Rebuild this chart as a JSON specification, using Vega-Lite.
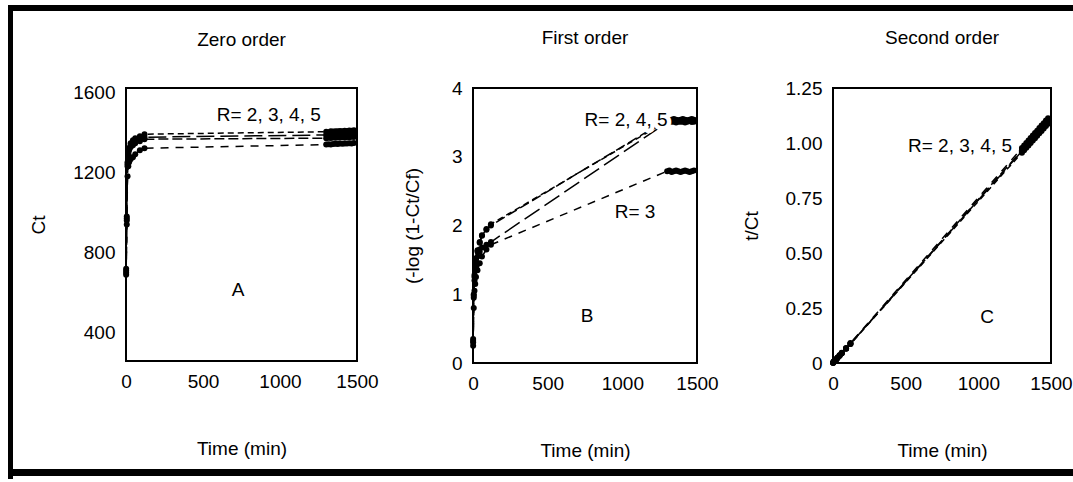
{
  "$schema": "https://vega.github.io/schema/vega-lite/v6.json",
  "padding": {"left": 8, "top": 5, "right": 0, "bottom": 3},
  "autosize": {"type": "pad"},
  "background": "white",
  "config": {
    "view": {"stroke": null},
    "font": "Liberation Sans, Arial, sans-serif",
    "axis": {"ticks": false, "grid": false, "domain": false, "labelFont": "Liberation Sans, Arial, sans-serif", "labelFontSize": 19, "labelColor": "black", "titleFont": "Liberation Sans, Arial, sans-serif", "titleFontSize": 19, "titleFontWeight": "normal", "titleColor": "black", "labelPadding": 11, "labelOverlap": false},
    "axisX": {"labelFlush": false, "titlePadding": 48},
    "axisY": {"titlePadding": 23, "labelDy": 2},
    "title": {"font": "Liberation Sans, Arial, sans-serif", "fontSize": 19, "fontWeight": "normal", "color": "black", "anchor": "middle", "offset": 31},
    "text": {"font": "Liberation Sans, Arial, sans-serif", "fontSize": 19, "color": "black"}
  },
  "datasets": {
    "A": [
      {"R":"2","t":1,"v":700},{"R":"2","t":5,"v":960},{"R":"2","t":10,"v":1230},{"R":"2","t":15,"v":1290},{"R":"2","t":20,"v":1320},{"R":"2","t":30,"v":1345},{"R":"2","t":45,"v":1360},{"R":"2","t":60,"v":1370},{"R":"2","t":90,"v":1380},{"R":"2","t":120,"v":1390},
      {"R":"2","t":1300,"v":1402},{"R":"2","t":1315,"v":1400},{"R":"2","t":1330,"v":1404},{"R":"2","t":1345,"v":1403},{"R":"2","t":1360,"v":1405},{"R":"2","t":1375,"v":1404},{"R":"2","t":1390,"v":1406},{"R":"2","t":1405,"v":1405},{"R":"2","t":1420,"v":1407},{"R":"2","t":1435,"v":1406},{"R":"2","t":1450,"v":1408},{"R":"2","t":1465,"v":1407},{"R":"2","t":1480,"v":1409},
      {"R":"3","t":1,"v":690},{"R":"3","t":5,"v":940},{"R":"3","t":10,"v":1180},{"R":"3","t":15,"v":1230},{"R":"3","t":20,"v":1250},{"R":"3","t":30,"v":1265},{"R":"3","t":45,"v":1275},{"R":"3","t":60,"v":1290},{"R":"3","t":90,"v":1310},{"R":"3","t":120,"v":1320},
      {"R":"3","t":1300,"v":1338},{"R":"3","t":1315,"v":1340},{"R":"3","t":1330,"v":1339},{"R":"3","t":1345,"v":1341},{"R":"3","t":1360,"v":1342},{"R":"3","t":1375,"v":1341},{"R":"3","t":1390,"v":1343},{"R":"3","t":1405,"v":1342},{"R":"3","t":1420,"v":1344},{"R":"3","t":1435,"v":1343},{"R":"3","t":1450,"v":1345},{"R":"3","t":1465,"v":1344},{"R":"3","t":1480,"v":1346},
      {"R":"4","t":1,"v":720},{"R":"4","t":5,"v":980},{"R":"4","t":10,"v":1250},{"R":"4","t":15,"v":1300},{"R":"4","t":20,"v":1320},{"R":"4","t":30,"v":1335},{"R":"4","t":45,"v":1345},{"R":"4","t":60,"v":1355},{"R":"4","t":90,"v":1365},{"R":"4","t":120,"v":1375},
      {"R":"4","t":1300,"v":1386},{"R":"4","t":1315,"v":1388},{"R":"4","t":1330,"v":1387},{"R":"4","t":1345,"v":1389},{"R":"4","t":1360,"v":1388},{"R":"4","t":1375,"v":1390},{"R":"4","t":1390,"v":1389},{"R":"4","t":1405,"v":1391},{"R":"4","t":1420,"v":1390},{"R":"4","t":1435,"v":1392},{"R":"4","t":1450,"v":1391},{"R":"4","t":1465,"v":1393},{"R":"4","t":1480,"v":1392},
      {"R":"5","t":1,"v":710},{"R":"5","t":5,"v":970},{"R":"5","t":10,"v":1240},{"R":"5","t":15,"v":1290},{"R":"5","t":20,"v":1310},{"R":"5","t":30,"v":1325},{"R":"5","t":45,"v":1335},{"R":"5","t":60,"v":1345},{"R":"5","t":90,"v":1355},{"R":"5","t":120,"v":1365},
      {"R":"5","t":1300,"v":1370},{"R":"5","t":1315,"v":1372},{"R":"5","t":1330,"v":1371},{"R":"5","t":1345,"v":1373},{"R":"5","t":1360,"v":1372},{"R":"5","t":1375,"v":1374},{"R":"5","t":1390,"v":1373},{"R":"5","t":1405,"v":1375},{"R":"5","t":1420,"v":1374},{"R":"5","t":1435,"v":1376},{"R":"5","t":1450,"v":1375},{"R":"5","t":1465,"v":1377},{"R":"5","t":1480,"v":1376}
    ],
    "B": [
      {"R":"2","t":1,"v":0.30},{"R":"2","t":5,"v":0.95},{"R":"2","t":10,"v":1.25},{"R":"2","t":15,"v":1.40},{"R":"2","t":20,"v":1.50},{"R":"2","t":30,"v":1.62},{"R":"2","t":45,"v":1.75},{"R":"2","t":60,"v":1.85},{"R":"2","t":90,"v":1.95},{"R":"2","t":120,"v":2.02},
      {"R":"2","t":1300,"v":3.52},{"R":"2","t":1315,"v":3.53},{"R":"2","t":1330,"v":3.51},{"R":"2","t":1345,"v":3.52},{"R":"2","t":1360,"v":3.53},{"R":"2","t":1375,"v":3.52},{"R":"2","t":1390,"v":3.51},{"R":"2","t":1405,"v":3.52},{"R":"2","t":1420,"v":3.53},{"R":"2","t":1435,"v":3.52},{"R":"2","t":1450,"v":3.52},{"R":"2","t":1465,"v":3.51},{"R":"2","t":1480,"v":3.52},
      {"R":"3","t":1,"v":0.25},{"R":"3","t":5,"v":0.80},{"R":"3","t":10,"v":1.05},{"R":"3","t":15,"v":1.15},{"R":"3","t":20,"v":1.25},{"R":"3","t":30,"v":1.35},{"R":"3","t":45,"v":1.45},{"R":"3","t":60,"v":1.55},{"R":"3","t":90,"v":1.65},{"R":"3","t":120,"v":1.72},
      {"R":"3","t":1300,"v":2.79},{"R":"3","t":1315,"v":2.80},{"R":"3","t":1330,"v":2.78},{"R":"3","t":1345,"v":2.79},{"R":"3","t":1360,"v":2.80},{"R":"3","t":1375,"v":2.79},{"R":"3","t":1390,"v":2.78},{"R":"3","t":1405,"v":2.79},{"R":"3","t":1420,"v":2.80},{"R":"3","t":1435,"v":2.79},{"R":"3","t":1450,"v":2.78},{"R":"3","t":1465,"v":2.79},{"R":"3","t":1480,"v":2.80},
      {"R":"4","t":1,"v":0.35},{"R":"4","t":5,"v":1.00},{"R":"4","t":10,"v":1.20},{"R":"4","t":15,"v":1.35},{"R":"4","t":20,"v":1.45},{"R":"4","t":30,"v":1.55},{"R":"4","t":45,"v":1.62},{"R":"4","t":60,"v":1.68},{"R":"4","t":90,"v":1.72},{"R":"4","t":120,"v":1.76},
      {"R":"4","t":1300,"v":3.50},{"R":"4","t":1315,"v":3.51},{"R":"4","t":1330,"v":3.52},{"R":"4","t":1345,"v":3.51},{"R":"4","t":1360,"v":3.50},{"R":"4","t":1375,"v":3.51},{"R":"4","t":1390,"v":3.52},{"R":"4","t":1405,"v":3.51},{"R":"4","t":1420,"v":3.50},{"R":"4","t":1435,"v":3.51},{"R":"4","t":1450,"v":3.52},{"R":"4","t":1465,"v":3.51},{"R":"4","t":1480,"v":3.51},
      {"R":"5","t":1,"v":0.32},{"R":"5","t":5,"v":0.98},{"R":"5","t":10,"v":1.28},{"R":"5","t":15,"v":1.42},{"R":"5","t":20,"v":1.52},{"R":"5","t":30,"v":1.64},{"R":"5","t":45,"v":1.76},{"R":"5","t":60,"v":1.86},{"R":"5","t":90,"v":1.94},{"R":"5","t":120,"v":2.00},
      {"R":"5","t":1300,"v":3.54},{"R":"5","t":1315,"v":3.53},{"R":"5","t":1330,"v":3.54},{"R":"5","t":1345,"v":3.55},{"R":"5","t":1360,"v":3.54},{"R":"5","t":1375,"v":3.53},{"R":"5","t":1390,"v":3.54},{"R":"5","t":1405,"v":3.55},{"R":"5","t":1420,"v":3.54},{"R":"5","t":1435,"v":3.53},{"R":"5","t":1450,"v":3.54},{"R":"5","t":1465,"v":3.55},{"R":"5","t":1480,"v":3.54}
    ],
    "C": [
      {"R":"2","t":1,"v":0.0014},{"R":"2","t":5,"v":0.0052},{"R":"2","t":10,"v":0.0081},{"R":"2","t":15,"v":0.0116},{"R":"2","t":20,"v":0.0152},{"R":"2","t":30,"v":0.0223},{"R":"2","t":45,"v":0.0331},{"R":"2","t":60,"v":0.0438},{"R":"2","t":90,"v":0.0652},{"R":"2","t":120,"v":0.0863},
      {"R":"2","t":1300,"v":0.956},{"R":"2","t":1315,"v":0.967},{"R":"2","t":1330,"v":0.978},{"R":"2","t":1345,"v":0.989},{"R":"2","t":1360,"v":1.000},{"R":"2","t":1375,"v":1.011},{"R":"2","t":1390,"v":1.022},{"R":"2","t":1405,"v":1.033},{"R":"2","t":1420,"v":1.044},{"R":"2","t":1435,"v":1.055},{"R":"2","t":1450,"v":1.066},{"R":"2","t":1465,"v":1.077},{"R":"2","t":1480,"v":1.088},
      {"R":"3","t":1,"v":0.0014},{"R":"3","t":5,"v":0.0053},{"R":"3","t":10,"v":0.0085},{"R":"3","t":15,"v":0.0122},{"R":"3","t":20,"v":0.0160},{"R":"3","t":30,"v":0.0237},{"R":"3","t":45,"v":0.0353},{"R":"3","t":60,"v":0.0465},{"R":"3","t":90,"v":0.0687},{"R":"3","t":120,"v":0.0909},
      {"R":"3","t":1300,"v":0.977},{"R":"3","t":1315,"v":0.989},{"R":"3","t":1330,"v":1.000},{"R":"3","t":1345,"v":1.011},{"R":"3","t":1360,"v":1.023},{"R":"3","t":1375,"v":1.034},{"R":"3","t":1390,"v":1.045},{"R":"3","t":1405,"v":1.056},{"R":"3","t":1420,"v":1.068},{"R":"3","t":1435,"v":1.079},{"R":"3","t":1450,"v":1.090},{"R":"3","t":1465,"v":1.102},{"R":"3","t":1480,"v":1.113},
      {"R":"4","t":1,"v":0.0014},{"R":"4","t":5,"v":0.0051},{"R":"4","t":10,"v":0.0080},{"R":"4","t":15,"v":0.0115},{"R":"4","t":20,"v":0.0152},{"R":"4","t":30,"v":0.0225},{"R":"4","t":45,"v":0.0335},{"R":"4","t":60,"v":0.0443},{"R":"4","t":90,"v":0.0659},{"R":"4","t":120,"v":0.0873},
      {"R":"4","t":1300,"v":0.963},{"R":"4","t":1315,"v":0.974},{"R":"4","t":1330,"v":0.985},{"R":"4","t":1345,"v":0.996},{"R":"4","t":1360,"v":1.007},{"R":"4","t":1375,"v":1.019},{"R":"4","t":1390,"v":1.030},{"R":"4","t":1405,"v":1.041},{"R":"4","t":1420,"v":1.052},{"R":"4","t":1435,"v":1.063},{"R":"4","t":1450,"v":1.074},{"R":"4","t":1465,"v":1.085},{"R":"4","t":1480,"v":1.096},
      {"R":"5","t":1,"v":0.0014},{"R":"5","t":5,"v":0.0052},{"R":"5","t":10,"v":0.0081},{"R":"5","t":15,"v":0.0116},{"R":"5","t":20,"v":0.0153},{"R":"5","t":30,"v":0.0226},{"R":"5","t":45,"v":0.0337},{"R":"5","t":60,"v":0.0446},{"R":"5","t":90,"v":0.0664},{"R":"5","t":120,"v":0.0879},
      {"R":"5","t":1300,"v":0.967},{"R":"5","t":1315,"v":0.978},{"R":"5","t":1330,"v":0.989},{"R":"5","t":1345,"v":1.000},{"R":"5","t":1360,"v":1.011},{"R":"5","t":1375,"v":1.022},{"R":"5","t":1390,"v":1.033},{"R":"5","t":1405,"v":1.045},{"R":"5","t":1420,"v":1.056},{"R":"5","t":1435,"v":1.067},{"R":"5","t":1450,"v":1.078},{"R":"5","t":1465,"v":1.089},{"R":"5","t":1480,"v":1.100}
    ]
  },
  "spacing": 0,
  "hconcat": [
    {"width": 5, "height": 474, "data": {"values": []}, "mark": "point", "view": {"fill": "black", "stroke": null}},
    {
      "spacing": 0,
      "vconcat": [
        {"width": 1060, "height": 6, "data": {"values": []}, "mark": "point", "view": {"fill": "black", "stroke": null}},
        {"width": 10, "height": 17, "data": {"values": []}, "mark": "point", "view": {"stroke": null}},
        {
          "spacing": 0,
          "hconcat": [
            {"width": 15, "height": 10, "data": {"values": []}, "mark": "point", "view": {"stroke": null}},
            {
              "width": 231, "height": 273,
              "view": {"stroke": "black", "strokeWidth": 2},
              "title": {"text": "Zero order", "offset": 33},
              "encoding": {
                "x": {"field": "t", "type": "quantitative", "scale": {"domain": [0, 1500], "nice": false}, "axis": {"values": [0, 500, 1000, 1500], "format": "d", "title": "Time (min)"}},
                "y": {"field": "v", "type": "quantitative", "scale": {"domain": [260, 1620], "nice": false, "zero": false}, "axis": {"values": [400, 800, 1200, 1600], "format": "d", "title": "Ct", "titlePadding": 24}}
              },
              "layer": [
                {"data": {"name": "A"}, "mark": {"type": "line", "color": "black", "strokeWidth": 1.5},
                 "encoding": {"strokeDash": {"field": "R", "type": "nominal", "scale": {"domain": ["2","3","4","5"], "range": [[6,4],[8,7],[18,6],[10,4]]}, "legend": null}, "order": {"field": "t"}}},
                {"data": {"name": "A"}, "mark": {"type": "circle", "color": "black", "size": 36, "opacity": 1}},
                {"data": {"values": [{"label": "R= 2, 3, 4, 5", "t": 927, "v": 1486}, {"label": "A", "t": 728, "v": 614}]},
                 "mark": {"type": "text"}, "encoding": {"text": {"field": "label"}}}
              ]
            },
            {"width": 22, "height": 10, "data": {"values": []}, "mark": "point", "view": {"stroke": null}},
            {
              "width": 224, "height": 275,
              "view": {"stroke": "black", "strokeWidth": 2},
              "title": {"text": "First order"},
              "encoding": {
                "x": {"field": "t", "type": "quantitative", "scale": {"domain": [0, 1500], "nice": false}, "axis": {"values": [0, 500, 1000, 1500], "format": "d", "title": "Time (min)"}},
                "y": {"field": "v", "type": "quantitative", "scale": {"domain": [0, 4], "nice": false}, "axis": {"values": [0, 1, 2, 3, 4], "format": "d", "title": "(-log (1-Ct/Cf)", "titlePadding": 29}}
              },
              "layer": [
                {"data": {"name": "B"}, "mark": {"type": "line", "color": "black", "strokeWidth": 1.5},
                 "encoding": {"strokeDash": {"field": "R", "type": "nominal", "scale": {"domain": ["2","3","4","5"], "range": [[6,4],[8,7],[18,6],[10,4]]}, "legend": null}, "order": {"field": "t"}}},
                {"data": {"name": "B"}, "mark": {"type": "circle", "color": "black", "size": 36, "opacity": 1}},
                {"data": {"values": [{"label": "R= 2, 4, 5", "t": 1025, "v": 3.53}, {"label": "R= 3", "t": 1085, "v": 2.2}, {"label": "B", "t": 764, "v": 0.68}]},
                 "mark": {"type": "text", "fill": "white", "stroke": "white", "strokeWidth": 9, "strokeJoin": "round"}, "encoding": {"text": {"field": "label"}}},
                {"data": {"values": [{"label": "R= 2, 4, 5", "t": 1025, "v": 3.53}, {"label": "R= 3", "t": 1085, "v": 2.2}, {"label": "B", "t": 764, "v": 0.68}]},
                 "mark": {"type": "text"}, "encoding": {"text": {"field": "label"}}}
              ]
            },
            {"width": 21, "height": 10, "data": {"values": []}, "mark": "point", "view": {"stroke": null}},
            {
              "width": 218, "height": 275,
              "view": {"stroke": "black", "strokeWidth": 2},
              "title": {"text": "Second order"},
              "encoding": {
                "x": {"field": "t", "type": "quantitative", "scale": {"domain": [0, 1500], "nice": false}, "axis": {"values": [0, 500, 1000, 1500], "format": "d", "title": "Time (min)"}},
                "y": {"field": "v", "type": "quantitative", "scale": {"domain": [0, 1.25], "nice": false}, "axis": {"values": [0, 0.25, 0.5, 0.75, 1, 1.25], "labelExpr": "datum.value == 0 ? '0' : format(datum.value, '.2f')", "title": "t/Ct", "titlePadding": 24}}
              },
              "layer": [
                {"data": {"name": "C"}, "mark": {"type": "line", "color": "black", "strokeWidth": 1.5},
                 "encoding": {"strokeDash": {"field": "R", "type": "nominal", "scale": {"domain": ["2","3","4","5"], "range": [[6,4],[8,7],[18,6],[10,4]]}, "legend": null}, "order": {"field": "t"}}},
                {"data": {"name": "C"}, "mark": {"type": "circle", "color": "black", "size": 36, "opacity": 1}},
                {"data": {"values": [{"label": "R= 2, 3, 4, 5", "t": 874, "v": 0.986}, {"label": "C", "t": 1060, "v": 0.21}]},
                 "mark": {"type": "text"}, "encoding": {"text": {"field": "label"}}}
              ]
            }
          ]
        },
        {"width": 10, "height": 8, "data": {"values": []}, "mark": "point", "view": {"stroke": null}},
        {"width": 1060, "height": 7, "data": {"values": []}, "mark": "point", "view": {"fill": "black", "stroke": null}}
      ]
    }
  ]
}
